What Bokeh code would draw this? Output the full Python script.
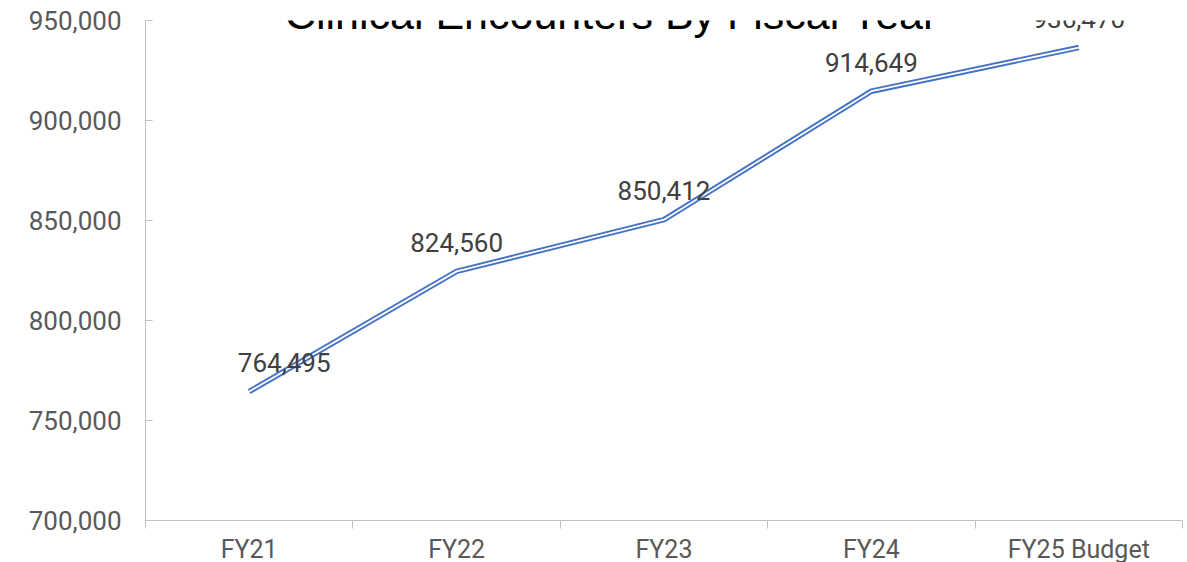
import numpy as np
from bokeh.plotting import figure
from bokeh.models import Range1d, FixedTicker, NumeralTickFormatter, Label
from bokeh.embed import file_html
from bokeh.resources import INLINE

# ---- data ----
categories = ["FY21", "FY22", "FY23", "FY24", "FY25 Budget"]
encounters = [764495, 824560, 850412, 914649, 936470]
y_ticks = [700000, 750000, 800000, 850000, 900000, 950000]
title_text = "Clinical Encounters By Fiscal Year"

# ---- styling ----
BLUE = "#4472C4"
AXIS_GRAY = "#BFBFBF"
FONT = "Roboto"
label_dx = [35, 0, 0, 0, 0]

xpos = [i + 0.5 for i in range(len(categories))]

p = figure(frame_width=1037, frame_height=500, output_backend="svg", toolbar_location=None,
           title=None,
           x_range=Range1d(0, len(categories)), y_range=Range1d(700000, 950000),
           min_border_left=145, min_border_right=5, min_border_top=20, min_border_bottom=0)
p.outline_line_color = None
p.xgrid.visible = False
p.ygrid.visible = False

# y axis
ya = p.yaxis[0]
ya.ticker = FixedTicker(ticks=y_ticks)
ya.formatter = NumeralTickFormatter(format="0,0")
ya.axis_line_color = AXIS_GRAY
ya.major_tick_line_color = AXIS_GRAY
ya.major_tick_in = 7
ya.major_tick_out = 0
ya.minor_tick_line_color = None
ya.major_label_standoff = 24
ya.major_label_text_font = FONT
ya.major_label_text_font_size = "26px"
ya.major_label_text_color = "#595959"

# x axis: labels at category centres, ticks at boundaries
xa = p.xaxis[0]
xa.ticker = FixedTicker(ticks=xpos, minor_ticks=list(range(len(categories) + 1)))
xa.major_label_overrides = {x: c for x, c in zip(xpos, categories)}
xa.axis_line_color = AXIS_GRAY
xa.major_tick_line_color = None
xa.major_tick_in = 0
xa.major_tick_out = 0
xa.minor_tick_line_color = AXIS_GRAY
xa.minor_tick_in = 0
xa.minor_tick_out = 8
xa.major_label_standoff = 6
xa.major_label_text_font = FONT
xa.major_label_text_font_size = "25px"
xa.major_label_text_color = "#595959"

# double line
p.line(xpos, encounters, line_color=BLUE, line_width=5.5)
p.line(xpos, encounters, line_color="white", line_width=1.8)

# data labels
for xi, yi, dx, v in zip(xpos, encounters, label_dx, encounters):
    p.add_layout(Label(x=xi, y=yi, text=f"{v:,}", x_offset=dx, y_offset=29,
                       text_align="center", text_baseline="middle",
                       text_font=FONT, text_font_size="26px", text_color="#404040"))

# title (cut off at the top as in the reference)
p.add_layout(Label(x=(611 - 145) / 207.4, y=953500, text=title_text,
                   text_align="center", text_baseline="alphabetic",
                   text_font="Liberation Sans", text_font_size="43px", text_color="black"))

open("out.html", "w").write(file_html(p, INLINE))
